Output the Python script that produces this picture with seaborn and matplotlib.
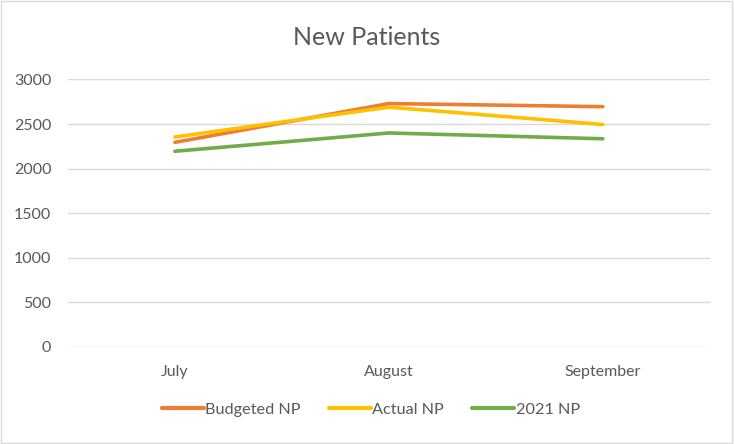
import pandas as pd
import seaborn as sns
import matplotlib.pyplot as plt
from matplotlib.patches import Rectangle

# Data
months = ['July', 'August', 'September']
budgeted_np = [2295, 2730, 2695]
actual_np = [2355, 2690, 2495]
np_2021 = [2195, 2400, 2335]
series_names = ['Budgeted NP', 'Actual NP', '2021 NP']
colors = ['#ED7D31', '#FFC000', '#70AD47']

df = pd.DataFrame({'month': months * 3,
                   'value': budgeted_np + actual_np + np_2021,
                   'series': [s for s in series_names for _ in months]})
df['pos'] = df['month'].map({m: i for i, m in enumerate(months)})

sns.set_style('white')
plt.rcParams['font.family'] = ['Lato', 'DejaVu Sans']
text_color = '#595959'

fig = plt.figure(figsize=(7.34, 4.44), dpi=100)
ax = fig.add_axes([0.0926, 0.2185, 0.8744, 0.6025])

sns.lineplot(data=df, x='pos', y='value', hue='series', hue_order=series_names,
             palette=colors, linewidth=2.6, ax=ax, legend=False)

ax.set_xlim(-0.5, 2.5)
ax.set_ylim(0, 3000)
ax.set_yticks(range(0, 3001, 500))
ax.set_xticks(range(len(months)))
ax.set_xticklabels(months)
ax.grid(axis='y', color='#D9D9D9', linewidth=1)
ax.set_axisbelow(True)
for s in ax.spines.values():
    s.set_visible(False)
ax.tick_params(axis='both', length=0, labelsize=11.5, colors=text_color)
ax.tick_params(axis='x', pad=13)
ax.tick_params(axis='y', pad=12)
ax.set_xlabel('')
ax.set_ylabel('')

fig.text(0.5, 0.915, 'New Patients', ha='center', va='center', fontsize=18, color=text_color)

handles = [plt.Line2D([], [], color=c, linewidth=3) for c in colors]
fig.legend(handles, series_names, loc='center', bbox_to_anchor=(0.505, 0.077), ncol=3,
           frameon=False, fontsize=11.7, labelcolor=text_color, handlelength=2.6,
           handletextpad=0.1, columnspacing=1.7)

fig.patches.append(Rectangle((0.002, 0.003), 0.995, 0.994, transform=fig.transFigure,
                             fill=False, edgecolor='#D9D9D9', linewidth=1))

fig.savefig('out.png', dpi=100)
